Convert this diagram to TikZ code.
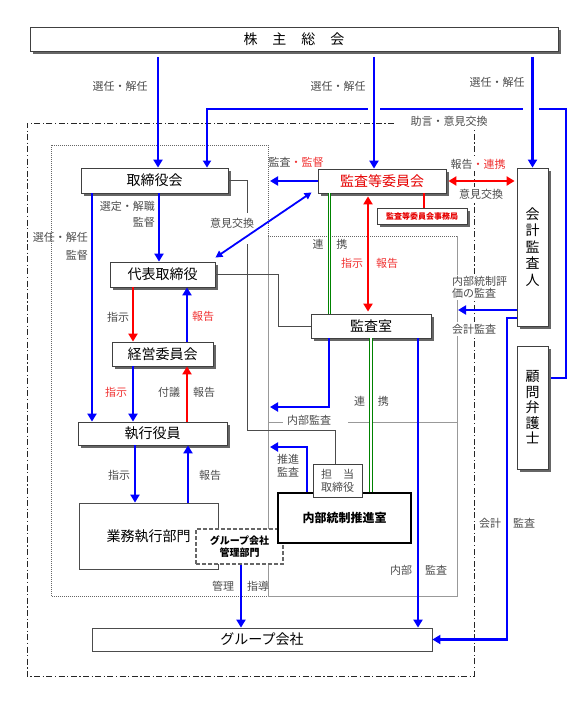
\documentclass[tikz,border=0pt]{standalone}
\usepackage{fontspec}
\setmainfont{Noto Sans CJK JP}
\usetikzlibrary{arrows.meta,shadows,calc}
\definecolor{labred}{RGB}{240,50,50}
\definecolor{boxred}{RGB}{230,0,0}
\definecolor{ggreen}{RGB}{0,130,0}
\begin{document}
\begin{tikzpicture}[x=1pt,y=-1pt,
  box/.style={draw=black!75, line width=0.8pt, fill=white, inner sep=0pt, font=\fontsize{14}{16}\selectfont, text=black},
  sbox/.style={box, drop shadow={shadow xshift=2.5pt, shadow yshift=-2.5pt, fill=black!60, opacity=1}},
  lbl/.style={inner sep=0pt, font=\fontsize{11}{12}\selectfont, text=black!70},
  rlbl/.style={lbl, text=labred},
  wlbl/.style={lbl, fill=white, inner sep=1.5pt},
  tip/.style={-{Triangle[length=8pt,width=9pt]}},
  barrow/.style={draw=blue, line width=2.8pt, tip},
  bthin/.style={draw=blue, line width=2pt, -{Triangle[length=7pt,width=8pt]}},
  bdouble/.style={draw=blue, line width=1.8pt, {Triangle[length=7pt,width=7pt]}-{Triangle[length=7pt,width=7pt]}},
  rarrow/.style={draw=red, line width=2.8pt, tip},
  rdouble/.style={draw=red, line width=2.8pt, {Triangle[length=8pt,width=9pt]}-{Triangle[length=8pt,width=9pt]}},
  gline/.style={draw=black!70, line width=0.7pt},
  lgray/.style={draw=black!40, line width=0.7pt},
  dotreg/.style={draw=black!60, line width=0.6pt, dash pattern=on 0.8pt off 1.2pt},
  dashdotreg/.style={draw=black!85, line width=1pt, dash pattern=on 6pt off 2.5pt on 1.2pt off 2.5pt},
  green2/.style={draw=ggreen, line width=0.8pt, double=white, double distance=1.6pt}
]
\useasboundingbox (0,0) rectangle (581,717);

% regions
\draw[dotreg] (51,145) rectangle (268,596);
\draw[lgray] (268,236) -- (268,596) -- (457,596) -- (457,236);
\draw[dotreg] (268,236) -- (457,236);
\draw[lgray] (268,422) -- (283,422);
\draw[lgray] (348,422) -- (457,422);
\draw[dashdotreg] (394,123) -- (27,123) -- (27,676) -- (474,676) -- (474,130);

% nodes
\node[sbox, minimum width=528pt, minimum height=24pt] (kabu) at (294,39.5) {株\hspace{15pt}主\hspace{15pt}総\hspace{15pt}会};
\node[sbox, minimum width=147pt, minimum height=25pt] (torishimari) at (154.5,180.5) {取締役会};
\node[sbox, minimum width=128pt, minimum height=24pt, text=boxred] (kansa) at (382,181) {監査等委員会};
\node[sbox, minimum width=90pt, minimum height=16pt, text=boxred, font=\fontsize{8}{9}\selectfont\bfseries] (jimu) at (422,216) {監査等委員会事務局};
\node[sbox, minimum width=31pt, minimum height=158pt, align=center, font=\fontsize{14}{16.5}\selectfont] (kaikei) at (532.5,247) {会\\計\\監\\査\\人};
\node[sbox, minimum width=31pt, minimum height=123pt, align=center, font=\fontsize{14}{15.5}\selectfont] (komon) at (532.5,407.5) {顧\\問\\弁\\護\\士};
\node[sbox, minimum width=105pt, minimum height=25pt] (daihyo) at (162.5,274.5) {代表取締役};
\node[sbox, minimum width=101pt, minimum height=24pt, drop shadow={shadow xshift=1pt, shadow yshift=-1pt, fill=black!50, opacity=1}] (keiei) at (162.5,354) {経営委員会};
\node[sbox, minimum width=120pt, minimum height=24pt] (kansashitsu) at (371,326) {監査室};
\node[sbox, minimum width=149pt, minimum height=23pt] (shikko) at (152.5,433.5) {執行役員};
\node[box, draw=black!70, minimum width=139pt, minimum height=66pt] (gyomu) at (148.5,536) {業務執行部門\hspace{15pt}};
\node[box, draw=black!60, line width=1.2pt, dash pattern=on 4pt off 2pt, minimum width=87pt, minimum height=35pt, align=center, font=\fontsize{10}{12}\selectfont\bfseries] (grpmgmt) at (239.5,546.5) {グループ会社\\管理部門};
\node[box, draw=black, line width=1.2pt, minimum width=133pt, minimum height=50pt, font=\fontsize{12}{14}\selectfont\bfseries] (naibu) at (344.5,518) {内部統制推進室};
\node[box, minimum width=49pt, minimum height=33pt, align=center, text=black!70, font=\fontsize{11}{13}\selectfont] (tanto) at (337.5,480.5) {担\hspace{11pt}当\\取締役};
\node[box, draw=black!70, minimum width=340pt, minimum height=23pt] (group) at (262,639.5) {グループ会社};

% advice line from komon to torishimari
\draw[bthin] ([xshift=3pt]komon.east |- 0,378) -- (566,378) -- (566,109) -- (207,109) -- (torishimari.north -| 207,0);
\fill[white] (368,105) rectangle (380,113);
\fill[white] (523,105) rectangle (539,113);

% shareholders arrows
\draw[barrow, shorten <=5pt] (kabu.south -| 158,0) -- (torishimari.north -| 158,0);
\draw[barrow, shorten <=5pt] (kabu.south -| 374,0) -- (kansa.north -| 374,0);
\draw[barrow, shorten <=5pt] (kabu.south -| 532.5,0) -- (kaikei.north);
\node[lbl] (l1) at (120,86) {選任・解任};
\node[lbl] (l2) at (338,86) {選任・解任};
\node[lbl] (l3) at (497,82) {選任・解任};
\node[lbl] (l4) at (449,121) {助言・意見交換};

% kansa connections
\coordinate (kansaL) at (270,181);
\draw[barrow] (kansa.west) -- (kansaL);
\node[lbl] (l5) at (296,162) {監査{\color{labred}・監督}};
\draw[rdouble, shorten <=2pt, shorten >=2pt] (kansa.east) -- (kaikei.west |- kansa.east);
\node[wlbl] (l6) at (478,164) {報告{\color{labred}・連携}};
\node[wlbl] (l7) at (481,194) {意見交換};
\draw[draw=red, line width=2.4pt] (kansa.south -| 424,0) -- (jimu.north -| 424,0);
\draw[bdouble] ([xshift=-6pt,yshift=1pt]kansa.south west) -- ([yshift=4pt]daihyo.north east);
\node[lbl] (l8) at (232,223) {意見交換};
\draw[green2] (kansa.south -| 329.5,0) -- (kansashitsu.north -| 329.5,0);
\draw[green2] (kansashitsu.south -| 371,0) -- (naibu.north -| 371,0);
\node[lbl] (l9) at (330,244) {連\hspace{13pt}携};
\node[lbl] (l10) at (371.5,401) {連\hspace{13pt}携};
\draw[rdouble, shorten <=3pt, shorten >=2pt] (kansa.south -| 368,0) -- (kansashitsu.north -| 368,0);
\node[rlbl] (l11) at (352,263) {指示};
\node[rlbl] (l12) at (387,263) {報告};

% gray connectors
\draw[gline] (daihyo.east) -- ++(63,0) |- (kansashitsu.west);
\draw[gline] (torishimari.east) -- (247.5,180.5) -- (247.5,213);
\draw[gline] (247.5,244) -- (247.5,430) -- (335,430) -- (tanto.north -| 335,0);

% kansashitsu outputs
\coordinate (naibuK) at (270,407);
\draw[barrow] (kansashitsu.south -| 329,0) |- (naibuK);
\node[lbl, fill=white, inner xsep=2pt] (l13) at (309,420) {内部監査};
\coordinate (suishinK) at (270,447);
\draw[barrow] (naibu.north -| 307,0) |- (suishinK);
\node[lbl, align=center, font=\fontsize{11}{13}\selectfont] (l14) at (288,465.5) {推進\\監査};
\draw[barrow] (kansashitsu.south -| 418,0) -- (group.north -| 418,0);
\node[lbl] (l15) at (401,570) {内部};
\node[lbl] (l16) at (436,570) {監査};

% kaikei outputs
\coordinate (kaikeiK) at (458,310);
\draw[barrow] (kaikei.west |- kaikeiK) -- (kaikeiK);
\node[wlbl, align=left, anchor=west, inner xsep=0pt, font=\fontsize{11}{11.5}\selectfont] (l17) at (452,287.5) {内部統制評\\価の監査};
\node[wlbl] (l18) at (474,329) {会計監査};
\draw[barrow] (kaikei.west |- 0,318) -- (507,318) |- (group.east);
\node[lbl] (l19) at (490,523) {会計};
\node[lbl] (l20) at (524,523) {監査};

% left hierarchy
\draw[barrow] (torishimari.south -| 159,0) -- (daihyo.north -| 159,0);
\node[lbl, anchor=east] (l21) at (155,206) {選定・解職};
\node[lbl, anchor=east] (l22) at (155,222) {監督};
\draw[barrow] (torishimari.south -| 92,0) -- (shikko.north -| 92,0);
\node[lbl, anchor=east] (l23) at (88,237) {選任・解任};
\node[lbl, anchor=east] (l24) at (88,255) {監督};
\draw[rarrow] (daihyo.south -| 133,0) -- (keiei.north -| 133,0);
\node[lbl] (l25) at (118,317) {指示};
\draw[barrow] (keiei.north -| 187,0) -- (daihyo.south -| 187,0);
\node[rlbl] (l26) at (203,316) {報告};
\draw[barrow] (keiei.south -| 133,0) -- (shikko.north -| 133,0);
\node[rlbl] (l27) at (116,392) {指示};
\draw[rarrow] (shikko.north -| 187,0) -- (keiei.south -| 187,0);
\node[lbl] (l28) at (169,392) {付議};
\node[lbl] (l29) at (204,392) {報告};
\draw[barrow] (shikko.south -| 135,0) -- (gyomu.north -| 135,0);
\node[lbl] (l30) at (119,475) {指示};
\draw[barrow] (gyomu.north -| 188,0) -- (shikko.south -| 188,0);
\node[lbl] (l31) at (210,475) {報告};
\draw[barrow] (grpmgmt.south -| 241,0) -- (group.north -| 241,0);
\node[lbl] (l32) at (223,586) {管理};
\node[lbl] (l33) at (258,586) {指導};
\end{tikzpicture}
\end{document}
